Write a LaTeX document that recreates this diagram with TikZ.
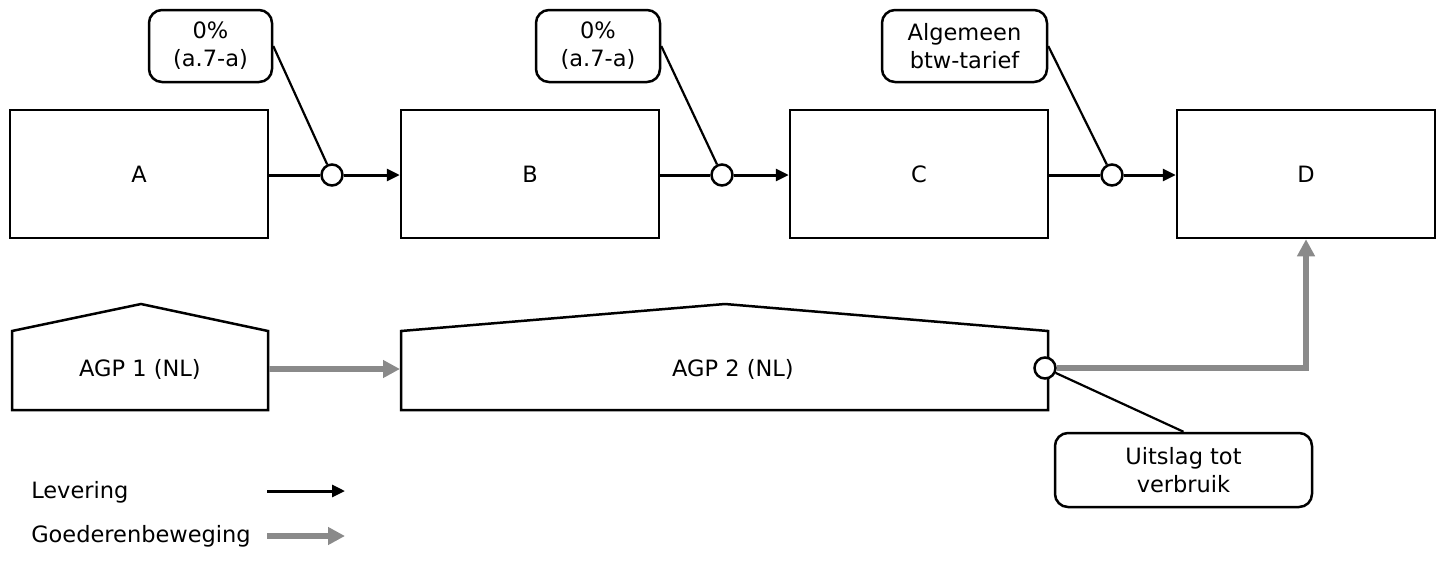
\documentclass[tikz,border=0pt]{standalone}
\usepackage{fontspec}
\setmainfont{DejaVu Sans}
\usetikzlibrary{arrows.meta}
\definecolor{goedgray}{RGB}{138,138,138}
\begin{document}
\begin{tikzpicture}[x=1pt,y=-1pt, font=\fontsize{22.5}{28}\selectfont, line width=2.5pt,
  box/.style={draw, minimum width=258pt, minimum height=128pt, inner sep=0pt},
  call/.style={draw, rounded corners=13pt, align=center, inner sep=0pt, minimum height=72pt},
  joint/.style={draw, circle, fill=white, minimum size=21pt, inner sep=0pt},
  lev/.style={line width=3pt, -{Triangle[length=13pt,width=12pt]}},
  goed/.style={line width=5.5pt, draw=goedgray, -{Triangle[length=17pt,width=17pt]}},
  leader/.style={line width=2.2pt},
  house/.style={draw, line join=miter}]
\useasboundingbox (0,0) rectangle (1440,563);
% top boxes
\node[box] (A) at (139,174) {A};
\node[box] (B) at (530,174) {B};
\node[box] (C) at (919,174) {C};
\node[box] (D) at (1306,174) {D};
% callouts
\node[call, minimum width=123pt] (k1) at (210.5,46) {0\%\\(a.7-a)};
\node[call, minimum width=124pt] (k2) at (598,46) {0\%\\(a.7-a)};
\node[call, minimum width=165pt] (k3) at (964.5,46) {Algemeen\\btw-tarief};
% joints
\node[joint] (j1) at (332,175) {};
\node[joint] (j2) at (722,175) {};
\node[joint] (j3) at (1112,175) {};
% supply arrows
\draw[line width=3pt] (A.east |- j1) -- (j1);
\draw[lev] (j1) -- (B.west |- j1);
\draw[line width=3pt] (B.east |- j2) -- (j2);
\draw[lev] (j2) -- (C.west |- j2);
\draw[line width=3pt] (C.east |- j3) -- (j3);
\draw[lev] (j3) -- (D.west |- j3);
% leaders
\draw[leader] (k1.east) -- (j1);
\draw[leader] (k2.east) -- (j2);
\draw[leader] (k3.east) -- (j3);
% warehouses
\draw[house] (12,410) -- (12,331) -- (141,304) -- (268,331) -- (268,410) -- cycle;
\node (h1) at (140,369) {AGP 1 (NL)};
\draw[house] (401,410) -- (401,331) -- (725,304) -- (1048,331) -- (1048,410) -- cycle;
\node (h2) at (733,369) {AGP 2 (NL)};
\coordinate (h1e) at (269,369);
\coordinate (h2w) at (400,369);
\draw[goed] (h1e) -- (h2w);
\node[joint] (j4) at (1045,368) {};
\draw[goed, line join=miter] (j4) -| (D.south);
\node[call, minimum width=257pt, minimum height=74pt] (k4) at (1183.5,470) {Uitslag tot\\verbruik};
\draw[leader] (j4) -- (k4.north);
% legend
\node[anchor=west, inner sep=0pt] (l1) at (30,492) {Levering};
\coordinate (l1a) at (267,491);
\coordinate (l1b) at (345,491);
\draw[lev] (l1a) -- (l1b);
\node[anchor=west, inner sep=0pt] (l2) at (30,536) {Goederenbeweging};
\coordinate (l2a) at (267,536);
\coordinate (l2b) at (345,536);
\draw[goed] (l2a) -- (l2b);
\end{tikzpicture}
\end{document}
